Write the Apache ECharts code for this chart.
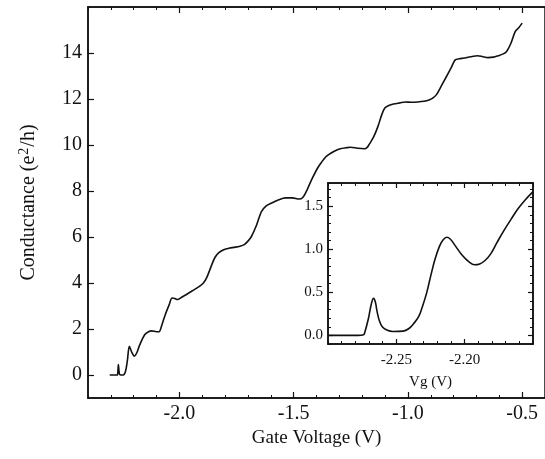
<!DOCTYPE html>
<html>
<head>
<meta charset="utf-8">
<script src="https://cdn.jsdelivr.net/npm/echarts@6/dist/echarts.min.js"></script>
<style>
  html, body { margin: 0; padding: 0; background: #fff; }
  #dom { width: 545px; height: 459px; }
</style>
</head>
<body>
<div id="dom"></div>
<script>
// main trace
var gateVoltage = [-2.305, -2.272, -2.269, -2.267, -2.264, -2.261, -2.246, -2.236, -2.228, -2.219,
  -2.209, -2.197, -2.185, -2.174, -2.152, -2.135, -2.122, -2.100, -2.089, -2.076,
  -2.062, -2.045, -2.032, -2.020, -2.009, -1.990, -1.971, -1.940, -1.911, -1.895,
  -1.881, -1.862, -1.844, -1.826, -1.806, -1.780, -1.761, -1.735, -1.716, -1.700,
  -1.686, -1.663, -1.641, -1.620, -1.596, -1.565, -1.536, -1.505, -1.476, -1.460,
  -1.446, -1.430, -1.416, -1.395, -1.378, -1.360, -1.341, -1.320, -1.296, -1.270,
  -1.251, -1.220, -1.191, -1.178, -1.168, -1.150, -1.131, -1.115, -1.101, -1.083,
  -1.063, -1.035, -1.011, -0.985, -0.958, -0.930, -0.905, -0.890, -0.875, -0.852,
  -0.830, -0.811, -0.793, -0.775, -0.755, -0.725, -0.695, -0.672, -0.650, -0.625,
  -0.605, -0.585, -0.568, -0.550, -0.530, -0.515, -0.500];
var conductance = [0, 0, 0.2, 0.45, 0.15, 0.02, 0, 0.15, 0.6, 1.25,
  1.0, 0.82, 1.0, 1.3, 1.75, 1.88, 1.92, 1.88, 1.88, 2.2,
  2.62, 3.05, 3.35, 3.33, 3.28, 3.38, 3.49, 3.68, 3.86, 4.0,
  4.22, 4.7, 5.12, 5.33, 5.45, 5.52, 5.55, 5.6, 5.67, 5.82,
  6.0, 6.5, 7.1, 7.35, 7.48, 7.62, 7.7, 7.7, 7.65, 7.72,
  7.95, 8.3, 8.6, 9.0, 9.25, 9.48, 9.62, 9.74, 9.84, 9.88,
  9.9, 9.86, 9.84, 9.9, 10.05, 10.35, 10.81, 11.3, 11.61, 11.72,
  11.78, 11.83, 11.87, 11.86, 11.87, 11.9, 11.97, 12.05, 12.19, 12.6,
  13.0, 13.35, 13.7, 13.75, 13.78, 13.84, 13.88, 13.84, 13.8, 13.82,
  13.88, 13.95, 14.07, 14.4, 14.94, 15.1, 15.3];

// inset trace
var insetVg = [-2.300, -2.278, -2.274, -2.273, -2.2705, -2.2685, -2.2667, -2.2654, -2.264, -2.2624,
  -2.2603, -2.2565, -2.2527, -2.245, -2.241, -2.2374, -2.2336, -2.231, -2.2277, -2.2247,
  -2.2216, -2.2183, -2.2157, -2.2132, -2.2106, -2.2068, -2.2018, -2.1966, -2.1928, -2.189,
  -2.1851, -2.1808, -2.1763, -2.1712, -2.166, -2.161, -2.1559, -2.150];
var insetG = [0, 0, 0.008, 0.04, 0.19, 0.35, 0.43, 0.39, 0.27, 0.17,
  0.10, 0.06, 0.046, 0.05, 0.077, 0.135, 0.22, 0.33, 0.50, 0.70,
  0.89, 1.04, 1.11, 1.14, 1.12, 1.04, 0.93, 0.85, 0.82, 0.83,
  0.87, 0.95, 1.08, 1.22, 1.35, 1.47, 1.57, 1.67];

var mainXTicks = [-2.0, -1.5, -1.0, -0.5];
var mainYTicks = [0, 2, 4, 6, 8, 10, 12, 14];
var insetXTicks = [-2.25, -2.20];
var insetYTicks = [0.0, 0.5, 1.0, 1.5];

var serif = "'Liberation Serif', 'Times New Roman', serif";
var ink = '#111';

function pairs (xs, ys) {
  return xs.map(function (x, i) { return [x, ys[i]] })
}

function tickAxis (grid, pos, min, max, step, len) {
  return {
    type: 'value', gridIndex: grid, position: pos, min: min, max: max, interval: step,
    axisLine: { show: false, onZero: false },
    axisTick: { show: true, inside: true, length: len, lineStyle: { color: ink, width: 1 } },
    axisLabel: { show: false },
    splitLine: { show: false }
  }
}

function majorAxis (grid, pos, min, max, ticks, len, label) {
  var ax = {
    type: 'value', gridIndex: grid, position: pos, min: min, max: max,
    axisLine: { show: true, onZero: false, lineStyle: { color: ink, width: 1.5 } },
    axisTick: { show: true, inside: true, length: len, customValues: ticks, lineStyle: { color: ink, width: 1.2 } },
    axisLabel: { show: false },
    splitLine: { show: false }
  }
  if (label) {
    ax.axisLabel = Object.assign({ show: true, customValues: ticks, color: ink, fontFamily: serif }, label)
  }
  return ax
}

var xMain = majorAxis(0, 'bottom', -2.4, -0.4, mainXTicks, 6, {
  fontSize: 20, margin: 6, formatter: function (v) { return v.toFixed(1) }
})
xMain.name = 'Gate Voltage (V)'
xMain.nameLocation = 'middle'
xMain.nameGap = 22
xMain.nameTextStyle = { fontFamily: serif, fontSize: 19, color: ink }

var yMain = majorAxis(0, 'left', -1, 16, mainYTicks, 6, {
  fontSize: 20, margin: 6, formatter: function (v) { return String(Math.round(v)) }
})
yMain.name = '{a|Conductance (e}{s|2}{a|/h)}'
yMain.nameLocation = 'middle'
yMain.nameGap = 48
yMain.nameTextStyle = {
  fontFamily: serif, fontSize: 20, color: ink,
  rich: {
    a: { fontFamily: serif, fontSize: 20, color: ink },
    s: { fontFamily: serif, fontSize: 14, color: ink, padding: [0, 1, 9, 1] }
  }
}

var xInset = majorAxis(1, 'bottom', -2.30, -2.15, insetXTicks, 5, {
  fontSize: 15, margin: 9, formatter: function (v) { return v.toFixed(2) }
})
xInset.name = 'Vg (V)'
xInset.nameLocation = 'middle'
xInset.nameGap = 31
xInset.nameTextStyle = { fontFamily: serif, fontSize: 15, color: ink }

var yInset = majorAxis(1, 'left', -0.1, 1.77, insetYTicks, 5, {
  fontSize: 15, margin: 5, formatter: function (v) { return v.toFixed(1) }
})

var option = {
  backgroundColor: '#fff',
  animation: false,
  grid: [
    { left: 88, top: 7, width: 464, height: 391, show: true, borderColor: ink, borderWidth: 1.5, backgroundColor: 'transparent' },
    { left: 328, top: 183, width: 205, height: 161, show: true, borderColor: ink, borderWidth: 1.5, backgroundColor: '#fff' }
  ],
  xAxis: [
    xMain,
    tickAxis(0, 'bottom', -2.4, -0.4, 0.1, 3),
    tickAxis(0, 'top', -2.4, -0.4, 0.1, 3),
    majorAxis(0, 'top', -2.4, -0.4, mainXTicks, 6),
    xInset,
    tickAxis(1, 'bottom', -2.30, -2.15, 0.01, 3),
    tickAxis(1, 'top', -2.30, -2.15, 0.01, 3),
    majorAxis(1, 'top', -2.30, -2.15, insetXTicks, 5)
  ],
  yAxis: [
    yMain,
    yInset,
    tickAxis(1, 'left', -0.1, 1.77, 0.1, 3),
    tickAxis(1, 'right', -0.1, 1.77, 0.1, 3),
    majorAxis(1, 'right', -0.1, 1.77, insetYTicks, 5)
  ],
  series: [
    {
      type: 'line', xAxisIndex: 0, yAxisIndex: 0,
      data: pairs(gateVoltage, conductance),
      symbol: 'none', smooth: 0.3,
      lineStyle: { color: ink, width: 1.6 }
    },
    {
      type: 'line', xAxisIndex: 4, yAxisIndex: 1,
      data: pairs(insetVg, insetG),
      symbol: 'none', smooth: 0.4,
      lineStyle: { color: ink, width: 1.6 }
    }
  ]
}

var chart = echarts.init(document.getElementById('dom'), null, { renderer: 'canvas' })
chart.setOption(option)
</script>
</body>
</html>
